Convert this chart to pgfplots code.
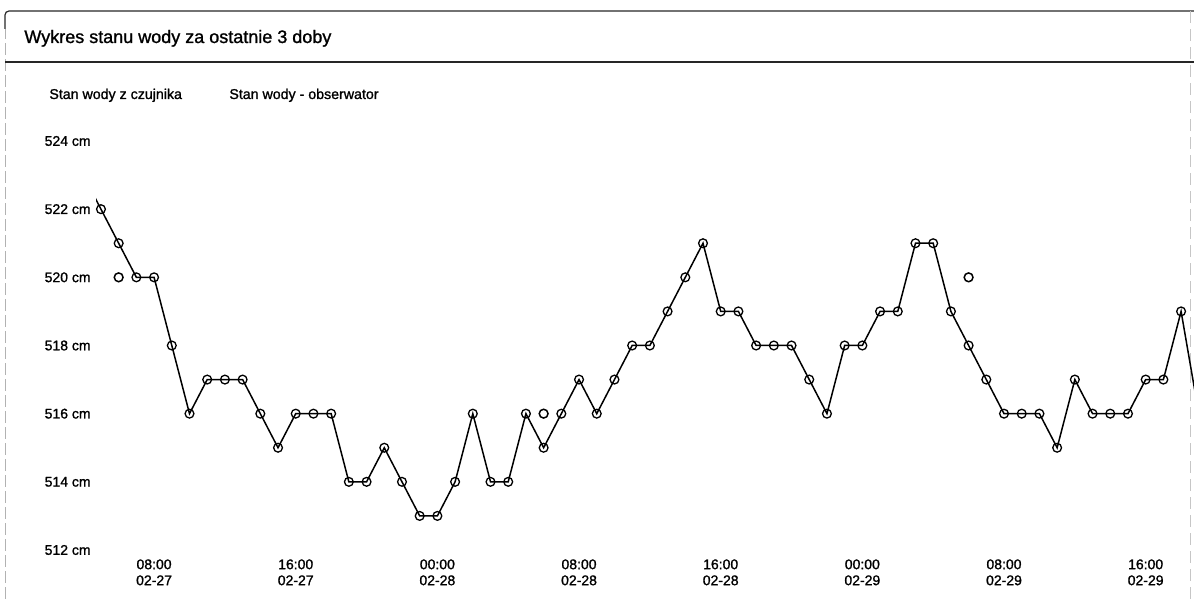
\documentclass[border=0pt]{standalone}
\usepackage{pgfplots}
\pgfplotsset{compat=1.18}
\usepackage{fontspec}
\setmainfont{Liberation Sans}[BoldFont={Liberation Sans}, BoldFeatures={FakeBold=1.2}]

\pgfplotstableread{
h v
4 523
5 522
6 521
7 520
8 520
9 518
10 516
11 517
12 517
13 517
14 516
15 515
16 516
17 516
18 516
19 514
20 514
21 515
22 514
23 513
24 513
25 514
26 516
27 514
28 514
29 516
30 515
31 516
32 517
33 516
34 517
35 518
36 518
37 519
38 520
39 521
40 519
41 519
42 518
43 518
44 518
45 517
46 516
47 518
48 518
49 519
50 519
51 521
52 521
53 519
54 518
55 517
56 516
57 516
58 516
59 515
60 517
61 516
62 516
63 516
64 517
65 517
66 519
67 516
}\sensor

\pgfplotstableread{
h v
6 520
30 516
54 520
}\observer

\begin{document}
\begin{tikzpicture}
\path[use as bounding box] (0pt,0pt) rectangle (597pt,299.5pt);
% frame
\draw[gray!60, line width=0.5pt, dash pattern=on 6pt off 2pt] (2.5pt,0pt) -- (2.5pt,285pt);
\draw[black!85, line width=0.6pt, rounded corners=2pt] (2.5pt,285pt) -- (2.5pt,294pt) -- (597pt,294pt);
\draw[black!85, line width=0.6pt] (2.5pt,268.5pt) -- (597pt,268.5pt);
\draw[gray!45, line width=0.4pt, dash pattern=on 6pt off 3pt] (595pt,0pt) -- (595pt,294pt);
% title
\node[anchor=base west, inner sep=0pt, font=\bfseries\fontsize{9}{10}\selectfont] at (12pt,278pt) {Wykres stanu wody za ostatnie 3 doby};
% legend
\node[anchor=base west, inner sep=0pt, font=\bfseries\fontsize{7.1}{8}\selectfont] at (24.5pt,250pt) {Stan wody z czujnika};
\node[anchor=base west, inner sep=0pt, font=\bfseries\fontsize{7.1}{8}\selectfont] at (114.5pt,250pt) {Stan wody - obserwator};

\begin{axis}[
  at={(48pt,24.5pt)}, anchor=south west,
  scale only axis,
  width=549pt, height=204.5pt,
  xmin=4.72, xmax=66.73,
  ymin=512, ymax=524,
  axis line style={draw=none},
  major tick length=0pt,
  xtick={8,16,24,32,40,48,56,64},
  xticklabels={{08:00\\02-27},{16:00\\02-27},{00:00\\02-28},{08:00\\02-28},{16:00\\02-28},{00:00\\02-29},{08:00\\02-29},{16:00\\02-29}},
  xticklabel style={align=center, anchor=north, inner sep=0pt, yshift=-4.5pt, font=\bfseries\fontsize{7}{8}\selectfont},
  ytick={512,514,516,518,520,522,524},
  yticklabels={512 cm,514 cm,516 cm,518 cm,520 cm,522 cm,524 cm},
  yticklabel style={anchor=east, inner sep=0pt, xshift=-2.5pt, font=\bfseries\fontsize{7}{8}\selectfont},
  clip=true,
]
\addplot[black, line width=0.75pt, mark=o, mark size=2.2pt, mark options={solid, fill=white, line width=0.65pt}] table[x=h, y=v] {\sensor};
\addplot[only marks, black, mark=o, mark size=2.2pt, mark options={fill=white, line width=0.75pt}] table[x=h, y=v] {\observer};
\end{axis}
\end{tikzpicture}
\end{document}
